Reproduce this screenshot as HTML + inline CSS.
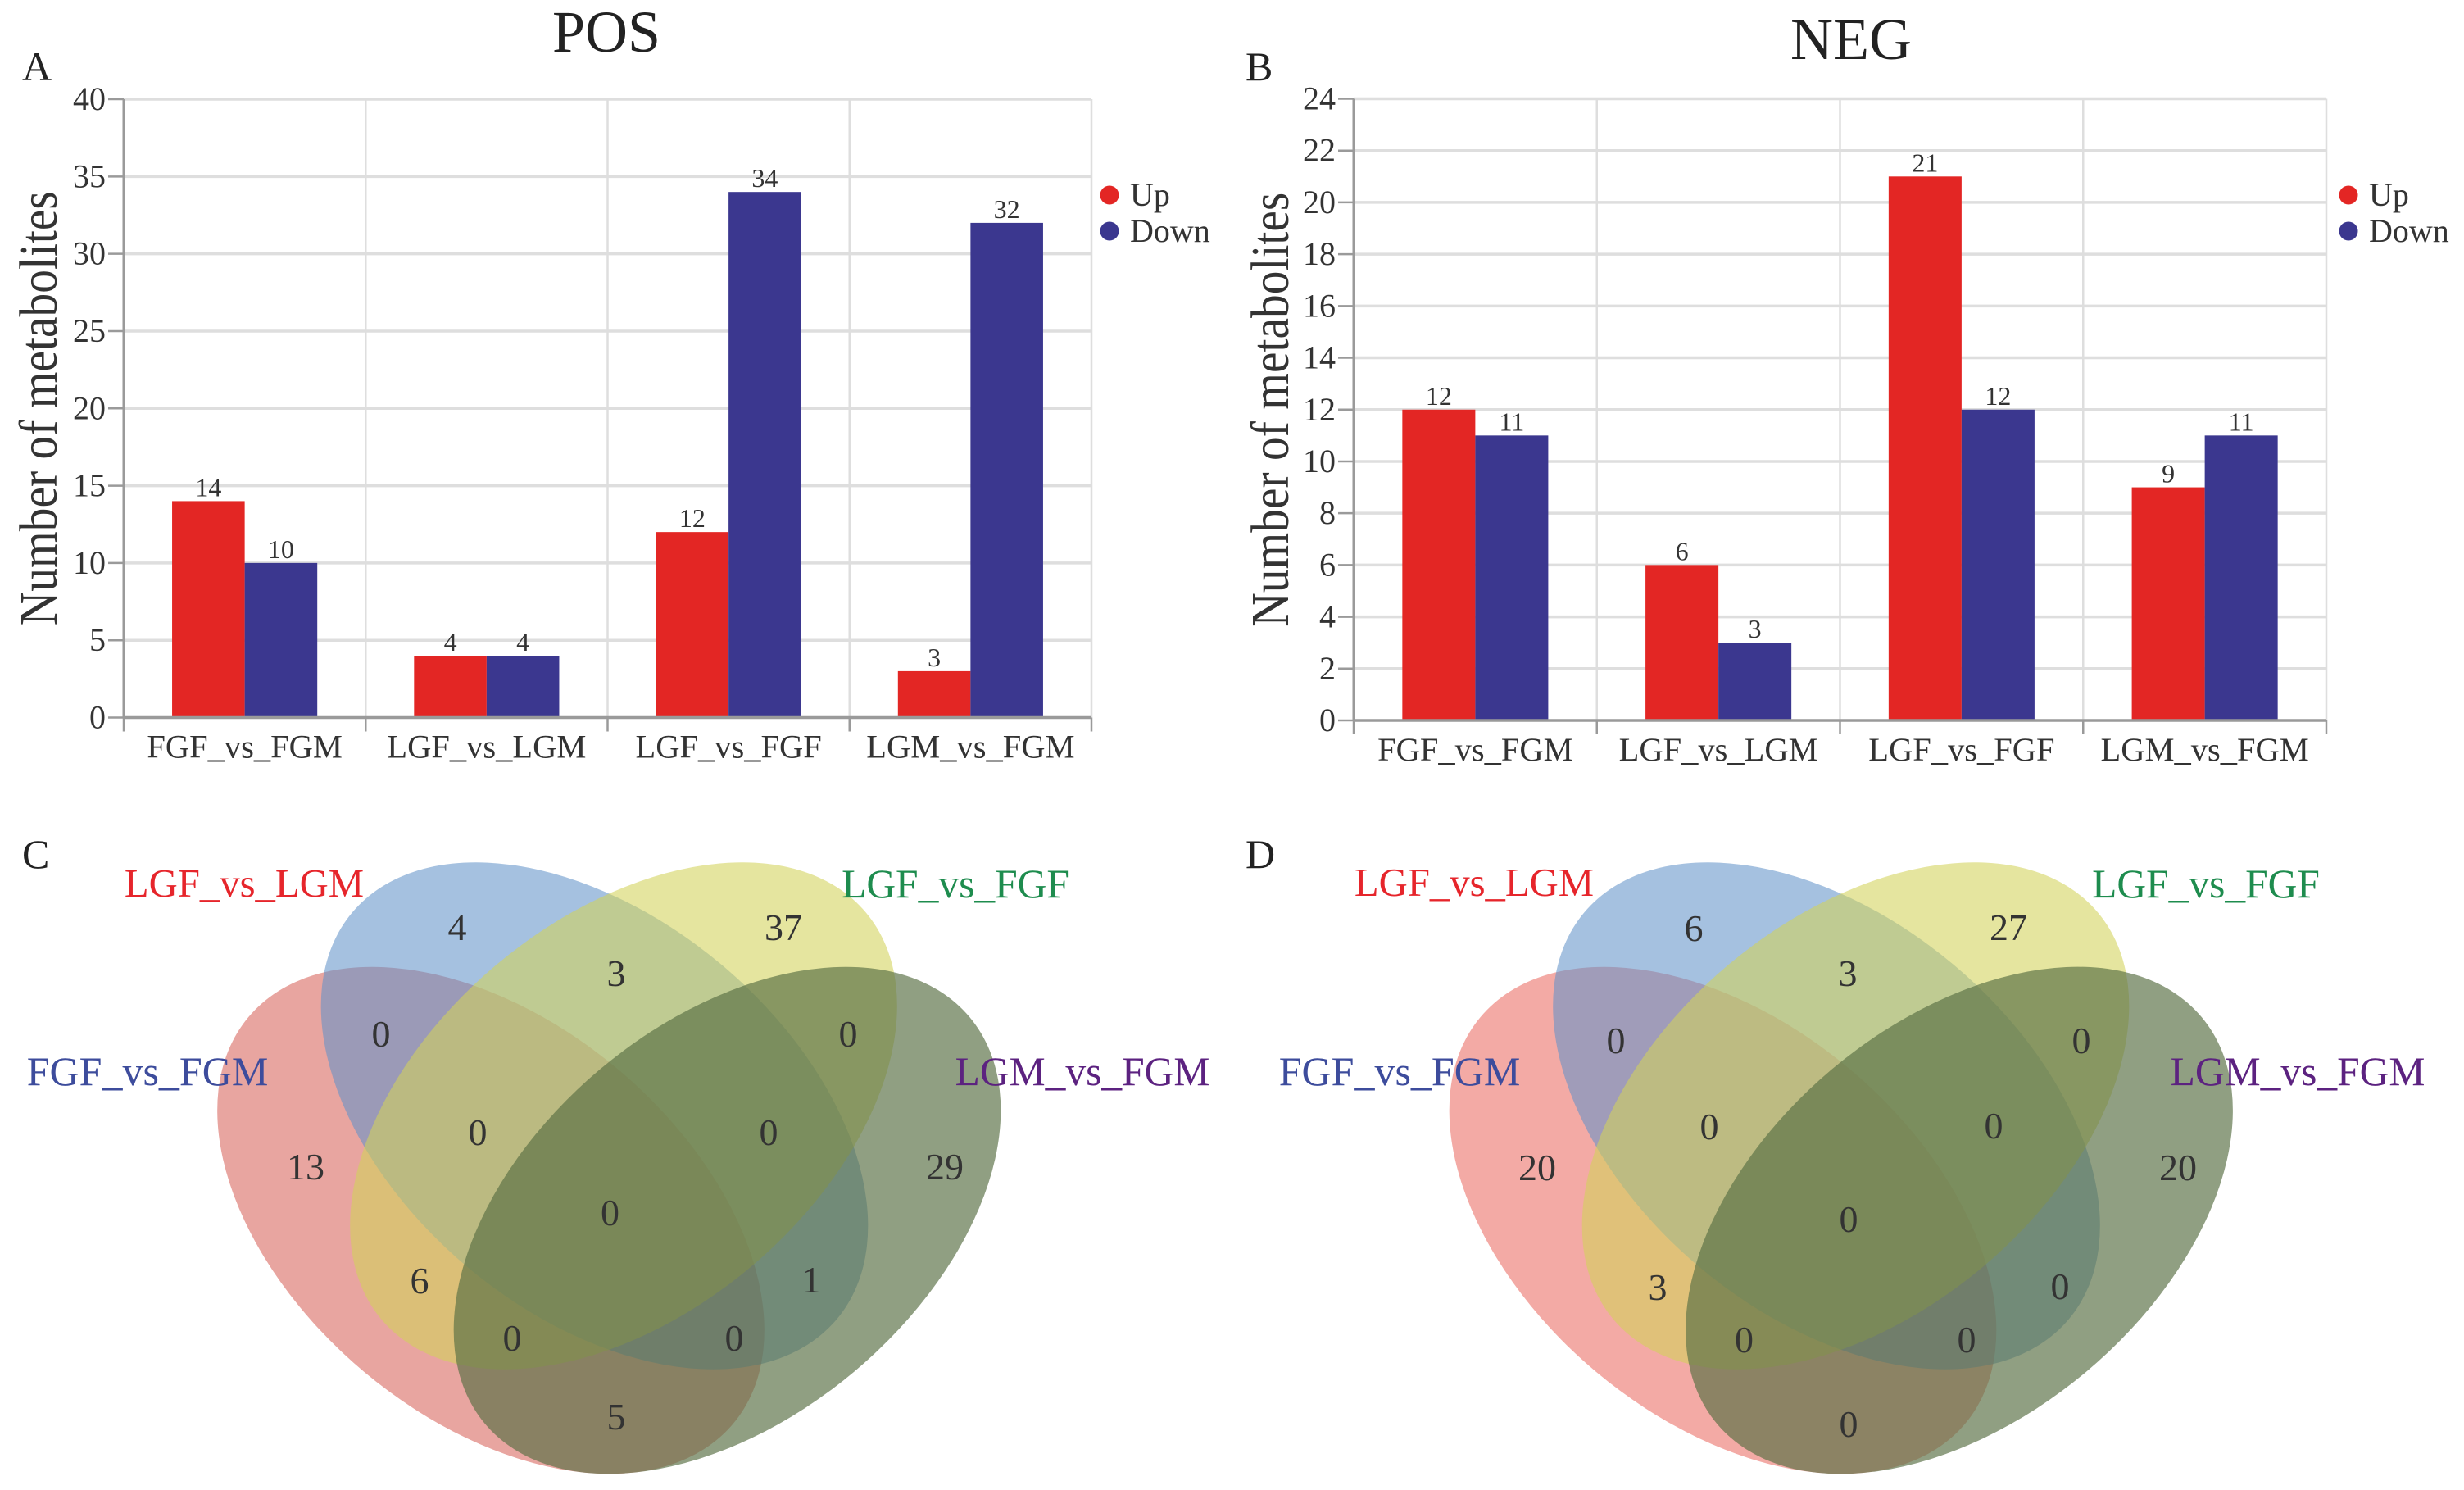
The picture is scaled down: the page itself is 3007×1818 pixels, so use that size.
<!DOCTYPE html>
<html lang="en">
<head>
<meta charset="utf-8">
<title>POS and NEG metabolite charts</title>
<style>
html,body{margin:0;padding:0;background:#fff;overflow:hidden;width:3007px;height:1818px;}
svg{display:block;}
text{font-family:"Liberation Serif",serif;}
</style>
</head>
<body>
<svg id="figure" xmlns="http://www.w3.org/2000/svg" width="3007" height="1818" viewBox="0 0 3007 1818">
<rect width="3007" height="1818" fill="#fff"/>
<text x="740" y="63" font-size="72" text-anchor="middle" fill="#222">POS</text>
<text x="2259" y="72" font-size="72" text-anchor="middle" fill="#222">NEG</text>
<text x="27" y="98" font-size="50" fill="#222">A</text>
<text x="1520" y="98" font-size="50" fill="#222">B</text>
<text x="27" y="1059" font-size="50" fill="#222">C</text>
<text x="1520" y="1059" font-size="50" fill="#222">D</text>

<g id="chart-a"></g>
<g id="chart-b"></g>

<g>
  <g id="venn-pos-shapes"></g>
  <g text-anchor="middle">
    <text x="298" y="1094" font-size="48.7" fill="#E6252B">LGF_vs_LGM</text>
    <text x="180" y="1324" font-size="50" fill="#3D4C9C">FGF_vs_FGM</text>
    <text x="1166" y="1095" font-size="49.5" fill="#1E8C4E">LGF_vs_FGF</text>
    <text x="1321" y="1324" font-size="49.5" fill="#5C2280">LGM_vs_FGM</text>
  </g>
  <g font-size="46" text-anchor="middle" fill="#333">
    <text x="558" y="1147">4</text>
    <text x="956" y="1147">37</text>
    <text x="752" y="1203">3</text>
    <text x="465" y="1277">0</text>
    <text x="1035" y="1277">0</text>
    <text x="583" y="1397">0</text>
    <text x="938" y="1397">0</text>
    <text x="373" y="1439">13</text>
    <text x="1153" y="1439">29</text>
    <text x="744.5" y="1495">0</text>
    <text x="512" y="1578">6</text>
    <text x="990" y="1577">1</text>
    <text x="625" y="1648">0</text>
    <text x="896" y="1648">0</text>
    <text x="752" y="1744">5</text>
  </g>
</g>

<g>
  <g id="venn-neg-shapes"></g>
  <g text-anchor="middle">
    <text x="1799" y="1093" font-size="48.7" fill="#E6252B">LGF_vs_LGM</text>
    <text x="1708" y="1324" font-size="50" fill="#3D4C9C">FGF_vs_FGM</text>
    <text x="2692" y="1095" font-size="49.5" fill="#1E8C4E">LGF_vs_FGF</text>
    <text x="2804" y="1324" font-size="49.5" fill="#5C2280">LGM_vs_FGM</text>
  </g>
  <g font-size="46" text-anchor="middle" fill="#333">
    <text x="2067" y="1148">6</text>
    <text x="2451" y="1147">27</text>
    <text x="2255" y="1203">3</text>
    <text x="1972" y="1285">0</text>
    <text x="2540" y="1285">0</text>
    <text x="2086" y="1390">0</text>
    <text x="2433" y="1389">0</text>
    <text x="1876" y="1440">20</text>
    <text x="2658" y="1440">20</text>
    <text x="2256" y="1503">0</text>
    <text x="2023" y="1586">3</text>
    <text x="2514" y="1585">0</text>
    <text x="2128.5" y="1650">0</text>
    <text x="2400" y="1650">0</text>
    <text x="2256" y="1753">0</text>
  </g>
</g>
</svg>

<script>
const categories = ["FGF_vs_FGM", "LGF_vs_LGM", "LGF_vs_FGF", "LGM_vs_FGM"];
const seriesNames = ["Up", "Down"];
const posUp = [14, 4, 12, 3];
const posDown = [10, 4, 34, 32];
const negUp = [12, 6, 21, 9];
const negDown = [11, 3, 12, 11];
const posTicks = [0, 5, 10, 15, 20, 25, 30, 35, 40];
const negTicks = [0, 2, 4, 6, 8, 10, 12, 14, 16, 18, 20, 22, 24];

const NS = "http://www.w3.org/2000/svg";
const UP_COLOR = "#E32624";
const DOWN_COLOR = "#3B378F";
const GRID_COLOR = "#DEDEDE";
const AXIS_COLOR = "#9A9A9A";

function svgEl(parent, tag, props, content) {
  const el = document.createElementNS(NS, tag);
  for (const key in props) el.setAttribute(key, props[key]);
  if (content !== undefined) el.textContent = content;
  parent.appendChild(el);
  return el;
}

function drawChart(root, box, ticks, up, down, legendX) {
  const maxTick = ticks[ticks.length - 1];
  const yScale = v => box.bottom - (v / maxTick) * (box.bottom - box.top);
  const bandWidth = (box.right - box.left) / categories.length;
  const xBand = i => box.left + i * bandWidth;
  const barWidth = bandWidth * 0.3;

  ticks.forEach(t => {
    const y = yScale(t);
    if (t !== 0) {
      const grid = svgEl(root, "line", {x1: box.left, x2: box.right, y1: y, y2: y, stroke: GRID_COLOR, "stroke-width": 3.5});
      
      
    }
    const tick = svgEl(root, "line", {x1: box.left - 19, x2: box.left, y1: y, y2: y, stroke: AXIS_COLOR, "stroke-width": 2.5});
    
    
    const label = svgEl(root, "text", {x: box.left - 22, y: y + 13, "font-size": 40, "text-anchor": "end", fill: "#333"}, String(t));
    
    
  });

  for (let i = 0; i <= categories.length; i++) {
    const x = xBand(i);
    const grid = svgEl(root, "line", {x1: x, x2: x, y1: box.top, y2: box.bottom, stroke: GRID_COLOR, "stroke-width": 2.5});
    
    
    const tick = svgEl(root, "line", {x1: x, x2: x, y1: box.bottom, y2: box.bottom + 17, stroke: AXIS_COLOR, "stroke-width": 2.5});
    
    
  }

  categories.forEach((name, i) => {
    const center = xBand(i) + bandWidth / 2;
    const pairs = [[up[i], UP_COLOR, center - barWidth, 'bar-up'], [down[i], DOWN_COLOR, center, 'bar-down']];
    pairs.forEach(p => {
      const y = yScale(p[0]);
      const bar = svgEl(root, "rect", {x: p[2], y: y, width: barWidth, height: box.bottom - y, fill: p[1]});
      
      
      const value = svgEl(root, "text", {x: p[2] + barWidth / 2, y: y - 6, "font-size": 32, "text-anchor": "middle", fill: "#333"}, String(p[0]));
      
      
    });
    const catLabel = svgEl(root, "text", {x: center, y: box.bottom + 49, "font-size": 40.5, "text-anchor": "middle", fill: "#333"}, name);
    
    
  });

  const yAxis = svgEl(root, "line", {x1: box.left, x2: box.left, y1: box.top, y2: box.bottom, stroke: AXIS_COLOR, "stroke-width": 3});
  
  
  const xAxis = svgEl(root, "line", {x1: box.left, x2: box.right, y1: box.bottom, y2: box.bottom, stroke: AXIS_COLOR, "stroke-width": 3.5});
  
  

  const midY = (box.top + box.bottom) / 2;
  const yTitle = svgEl(root, "text", {x: 0, y: 0, "font-size": 57.5, "text-anchor": "middle", fill: "#333", transform: "translate(" + box.titleX + " " + midY + ") rotate(-90) scale(1 1.15)"}, "Number of metabolites");
  
  

  seriesNames.forEach((name, i) => {
    const cy = 238 + i * 44;
    const dot = svgEl(root, "circle", {cx: legendX, cy: cy, r: 11.5, fill: i === 0 ? UP_COLOR : DOWN_COLOR});
    
    
    const text = svgEl(root, "text", {x: legendX + 25, y: cy + 13, "font-size": 40, fill: "#333"}, name);
    
    
  });
}

drawChart(document.getElementById("chart-a"), {left: 151, right: 1332, top: 121, bottom: 875.5, titleX: 69}, posTicks, posUp, posDown, 1354);
drawChart(document.getElementById("chart-b"), {left: 1652, right: 2839, top: 120.5, bottom: 879, titleX: 1572}, negTicks, negUp, negDown, 2866);

/* Venn sets: tilted ellipses, drawn as arc paths so their boxes stay tight. */
const PETAL_RX = 386;
const PETAL_RY = 241;
const PETAL_TILT = 40;

function petalPath(cx, cy, tilt) {
  const rad = tilt * Math.PI / 180;
  const ex = PETAL_RX * Math.cos(rad), ey = PETAL_RX * Math.sin(rad);
  const arc = "A" + PETAL_RX + " " + PETAL_RY + " " + tilt + " 1 1 ";
  return "M" + (cx - ex).toFixed(2) + " " + (cy - ey).toFixed(2) + arc + (cx + ex).toFixed(2) + " " + (cy + ey).toFixed(2) + arc + (cx - ex).toFixed(2) + " " + (cy - ey).toFixed(2) + "Z";
}

function drawVenn(root, offsetX, redFill) {
  const red = svgEl(root, "path", {d: petalPath(599 + offsetX, 1489, PETAL_TILT), fill: redFill});
  
  
  const blue = svgEl(root, "path", {d: petalPath(725.5 + offsetX, 1361.5, PETAL_TILT), fill: "#6192C8", "fill-opacity": 0.57});
  
  
  const yellow = svgEl(root, "path", {d: petalPath(761 + offsetX, 1361.5, -PETAL_TILT), fill: "#D2D25A", "fill-opacity": 0.58});
  
  
  const green = svgEl(root, "path", {d: petalPath(887.5 + offsetX, 1489, -PETAL_TILT), fill: "#597044", "fill-opacity": 0.67});
  
  
}

drawVenn(document.getElementById("venn-pos-shapes"), 0, "#E8A5A0");
drawVenn(document.getElementById("venn-neg-shapes"), 1503.5, "#F3AAA5");
</script>
</body>
</html>
